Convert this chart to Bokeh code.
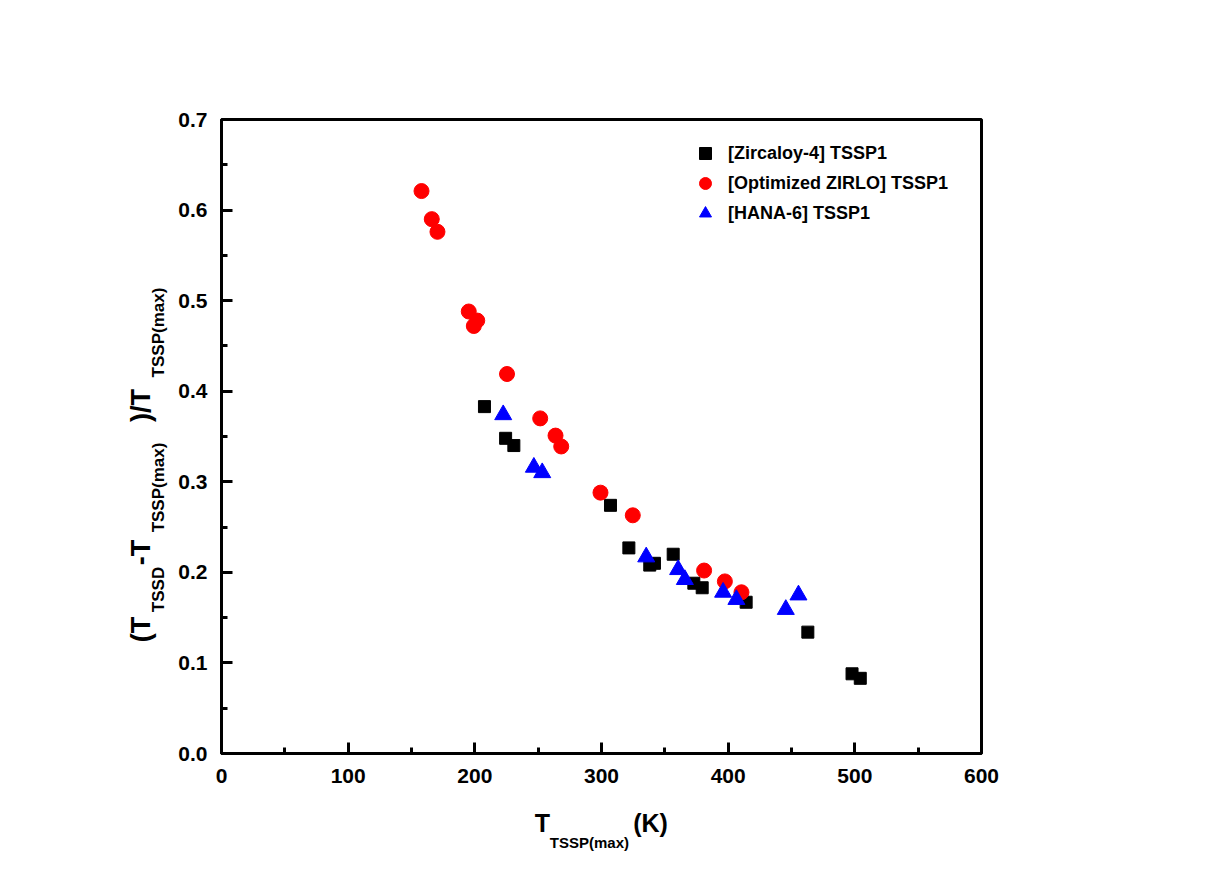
from bokeh.plotting import figure
from bokeh.models import (Range1d, FixedTicker, PrintfTickFormatter, Legend, LegendItem, LinearAxis)
from bokeh.embed import file_html
from bokeh.resources import INLINE

# ---------------- data ----------------
zirc_x = [207.6, 224.3, 230.8, 307.1, 321.6, 338.1, 341.8, 356.6, 372.9, 379.5, 414.2, 462.9, 497.8, 504.3]
zirc_y = [0.383, 0.348, 0.340, 0.274, 0.227, 0.208, 0.210, 0.220, 0.188, 0.183, 0.167, 0.134, 0.088, 0.083]

ozirlo_x = [157.9, 166.0, 170.5, 195.2, 201.9, 199.2, 225.4, 251.6, 263.7, 268.2, 299.2, 324.7, 381.0, 397.4, 410.5]
ozirlo_y = [0.621, 0.590, 0.576, 0.488, 0.478, 0.472, 0.419, 0.370, 0.351, 0.339, 0.288, 0.263, 0.202, 0.190, 0.178]

hana_x = [222.4, 246.6, 253.2, 335.3, 360.5, 365.8, 396.0, 406.5, 445.5, 455.5]
hana_y = [0.374, 0.316, 0.310, 0.217, 0.203, 0.192, 0.178, 0.170, 0.159, 0.175]

series_names = ["[Zircaloy-4] TSSP1", "[Optimized ZIRLO] TSSP1", "[HANA-6] TSSP1"]

x_ticks = [0, 100, 200, 300, 400, 500, 600]
x_minor = [50, 150, 250, 350, 450, 550]
y_ticks = [0.0, 0.1, 0.2, 0.3, 0.4, 0.5, 0.6, 0.7]
y_minor = [0.05, 0.15, 0.25, 0.35, 0.45, 0.55, 0.65]

# axis titles, split into normal-size parts and subscript parts
x_title_main = ["T", "(K)"]
x_title_sub = ["TSSP(max)"]
y_title_main = ["(T", "-T", ")/T"]
y_title_sub = ["TSSD", "TSSP(max)", "TSSP(max)"]

FONT = "Liberation Sans"

# frame geometry (page pixels)
FL, FR, FT, FB = 221, 981, 119, 753
XMIN, XMAX, YMIN, YMAX = 0, 600, 0.0, 0.7
W, H = 1200, 870

p = figure(frame_width=FR - FL, frame_height=FB - FT,
           min_border_left=FL, min_border_right=W - FR,
           min_border_top=FT, min_border_bottom=H - FB,
           x_range=Range1d(XMIN, XMAX), y_range=Range1d(YMIN, YMAX),
           output_backend="svg", toolbar_location=None)

p.xgrid.visible = False
p.ygrid.visible = False
p.outline_line_color = "black"
p.outline_line_width = 3
p.background_fill_color = "white"
p.border_fill_color = "white"

for ax in (p.xaxis[0], p.yaxis[0]):
    ax.axis_line_width = 3
    ax.major_tick_line_width = 3
    ax.minor_tick_line_width = 3
    ax.major_tick_in = 11
    ax.major_tick_out = 0
    ax.minor_tick_in = 6
    ax.minor_tick_out = 0
    ax.major_label_text_font = FONT
    ax.major_label_text_font_style = "bold"
    ax.major_label_text_font_size = "21px"
    ax.major_label_text_color = "black"

p.xaxis[0].ticker = FixedTicker(ticks=x_ticks, minor_ticks=x_minor)
p.yaxis[0].ticker = FixedTicker(ticks=y_ticks, minor_ticks=y_minor)
p.xaxis[0].formatter = PrintfTickFormatter(format="%d")
p.yaxis[0].formatter = PrintfTickFormatter(format="%.1f")
p.xaxis[0].major_label_standoff = 15
p.yaxis[0].major_label_standoff = 14

r1 = p.scatter(zirc_x, zirc_y, marker="square", size=12, color="black")
r2 = p.scatter(ozirlo_x, ozirlo_y, marker="circle", size=15, color="#ff0000")
r3 = p.scatter(hana_x, hana_y, marker="triangle", size=17, color="#0000ff")

legend = Legend(items=[LegendItem(label=series_names[0], renderers=[r1]),
                       LegendItem(label=series_names[1], renderers=[r2]),
                       LegendItem(label=series_names[2], renderers=[r3])],
                location="top_right")
legend.border_line_color = None
legend.background_fill_alpha = 0
legend.label_text_font = FONT
legend.label_text_font_style = "bold"
legend.label_text_font_size = "18px"
legend.label_text_color = "black"
legend.label_height = 30
legend.glyph_height = 30
legend.glyph_width = 30
legend.label_width = 234
legend.spacing = 0
legend.label_standoff = 8
legend.margin = 19
legend.padding = 6
p.add_layout(legend, "center")


def dx(px):
    return round(XMIN + (px - FL) / (FR - FL) * (XMAX - XMIN), 1)


def dy(py):
    return round(YMIN + (FB - py) / (FB - FT) * (YMAX - YMIN), 4)


def text_axis(side, ticks, texts, size, standoff, orientation):
    ax = LinearAxis(ticker=FixedTicker(ticks=ticks, minor_ticks=[]),
                    major_label_overrides={t: s for t, s in zip(ticks, texts)},
                    axis_line_color=None, major_tick_line_color=None,
                    minor_tick_line_color=None,
                    major_tick_in=0, major_tick_out=0,
                    minor_tick_in=0, minor_tick_out=0,
                    major_label_text_font=FONT,
                    major_label_text_font_style="bold",
                    major_label_text_font_size=size,
                    major_label_text_color="black",
                    major_label_standoff=standoff,
                    major_label_orientation=orientation)
    p.add_layout(ax, side)


# x axis title: T_TSSP(max)(K)  (text centres, page px)
text_axis("below", [dx(542), dx(650)], x_title_main, "25px", 23, "horizontal")
text_axis("below", [dx(589)], x_title_sub, "15px", -6, "horizontal")

# y axis title (reads bottom to top): subscripts nearer the frame, main parts outside
text_axis("left", [dy(589), dy(487), dy(332)], y_title_sub, "17px", 7, "parallel")
text_axis("left", [dy(629), dy(552), dy(405)], y_title_main, "27px", -10, "parallel")

open("out.html", "w").write(file_html(p, INLINE))
